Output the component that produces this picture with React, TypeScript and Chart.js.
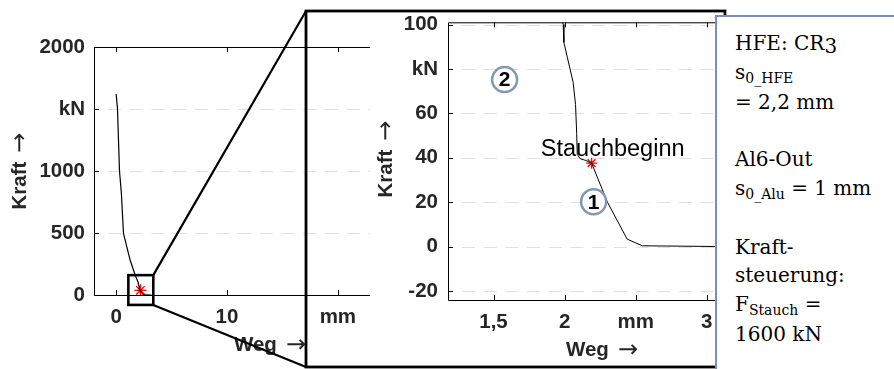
import React, { useEffect, useRef } from 'react';
import { Chart, registerables } from 'chart.js';

Chart.register(...registerables);

// Kraft-Weg-Verlauf (Weg in mm, Kraft in kN)
const WEG_MM = [0, 0.12, 0.3, 0.47, 0.66, 0.81, 1.26, 1.71, 1.99, 1.995, 2.02, 2.06, 2.077, 2.085, 2.089, 2.11, 2.15, 2.19, 2.3, 2.44, 2.547, 3.2];
const KRAFT_KN = [1620, 1500, 1000, 820, 497, 443, 282, 161, 100, 92, 85, 74, 64, 51, 41.5, 39.6, 38.8, 37.6, 20.2, 3.4, 0.4, 0];

// Stauchbeginn
const STAUCH_WEG = 2.19;
const STAUCH_KN = 37.6;

// Overview axes
const OVERVIEW_X_TICKS = [0, 10, 20];
const OVERVIEW_X_LABELS = ['0', '10', 'mm'];
const OVERVIEW_Y_TICKS = [0, 500, 1000, 1500, 2000];
const OVERVIEW_Y_LABELS = ['0', '500', '1000', 'kN', '2000'];

// Detail axes
const DETAIL_X_TICKS = [1.5, 2, 2.5, 3];
const DETAIL_X_LABELS = ['1,5', '2', 'mm', '3'];
const DETAIL_Y_TICKS = [-20, 0, 20, 40, 60, 80, 100];
const DETAIL_Y_LABELS = ['-20', '0', '20', '40', '60', 'kN', '100'];

// Phase markers in the detail view
const PHASE_LABELS = ['1', '2'];
const PHASE_WEG = [2.204, 1.578];
const PHASE_KN = [20.2, 75.2];

const W = 894;
const H = 369;
const TEXT = '#262626';
const FONT_SIZE = 20.5;
const BOLD = `bold ${FONT_SIZE}px "Liberation Sans", Arial, sans-serif`;
const ARROW = '24px "DejaVu Sans", sans-serif';
const GRID = '#e0e0e0';

const curvePoints = () => WEG_MM.map((x, i) => ({ x, y: KRAFT_KN[i] }));

function frame(chart: any, xTicks: number[], yTicks: number[]) {
  const { ctx, chartArea: a, scales } = chart;
  const xs = scales.x;
  const ys = scales.y;
  ctx.save();
  ctx.strokeStyle = '#000';
  ctx.lineWidth = 1;
  ctx.beginPath();
  ctx.moveTo(a.right, a.top + 0.5);
  ctx.lineTo(a.left + 0.5, a.top + 0.5);
  ctx.lineTo(a.left + 0.5, a.bottom + 0.5);
  ctx.lineTo(a.right, a.bottom + 0.5);
  for (const v of xTicks) {
    const px = Math.round(xs.getPixelForValue(v)) + 0.5;
    ctx.moveTo(px, a.top);
    ctx.lineTo(px, a.top + 5);
    ctx.moveTo(px, a.bottom);
    ctx.lineTo(px, a.bottom - 5);
  }
  for (const v of yTicks) {
    const py = Math.round(ys.getPixelForValue(v)) + 0.5;
    ctx.moveTo(a.left, py);
    ctx.lineTo(a.left + 5, py);
  }
  ctx.stroke();
  ctx.restore();
}

function grid(chart: any, yTicks: number[]) {
  const { ctx, chartArea: a, scales } = chart;
  const ys = scales.y;
  ctx.save();
  ctx.strokeStyle = GRID;
  ctx.lineWidth = 1;
  ctx.setLineDash([13, 8.7]);
  ctx.lineDashOffset = -14;
  for (const v of yTicks) {
    if (v <= ys.min || v >= ys.max) continue;
    const py = Math.round(ys.getPixelForValue(v)) + 0.5;
    ctx.beginPath();
    ctx.moveTo(a.left, py);
    ctx.lineTo(a.right, py);
    ctx.stroke();
  }
  ctx.restore();
}

// Axis title "<word> →", centred at (0,0) along the current direction, baseline at y=0
function titleAt(ctx: CanvasRenderingContext2D, word: string) {
  ctx.font = BOLD;
  const ww = ctx.measureText(word).width;
  ctx.font = ARROW;
  const aw = ctx.measureText('\u2192').width;
  const gap = 9;
  const start = -(ww + gap + aw) / 2;
  ctx.textAlign = 'left';
  ctx.textBaseline = 'alphabetic';
  ctx.font = BOLD;
  ctx.fillText(word, start, 0);
  ctx.font = ARROW;
  ctx.fillText('\u2192', start + ww + gap, 1);
}

function axisTitles(ctx: CanvasRenderingContext2D, yBase: number, yMid: number, xMid: number, xBase: number) {
  ctx.save();
  ctx.fillStyle = TEXT;
  ctx.save();
  ctx.translate(xMid, xBase);
  titleAt(ctx, 'Weg');
  ctx.restore();
  ctx.translate(yBase, yMid);
  ctx.rotate(-Math.PI / 2);
  titleAt(ctx, 'Kraft');
  ctx.restore();
}

function axisOptions(
  min: number, max: number, ticks: number[], labels: string[],
  fit: (s: any) => void, padding: number,
) {
  return {
    type: 'linear' as const,
    min,
    max,
    afterBuildTicks: (s: any) => { s.ticks = ticks.map((value) => ({ value })); },
    afterFit: fit,
    grid: { display: false, drawTicks: false },
    border: { display: false },
    ticks: {
      autoSkip: false,
      maxRotation: 0,
      padding,
      color: TEXT,
      font: { family: '"Liberation Sans", Arial, sans-serif', size: FONT_SIZE, weight: 'bold' as const },
      callback: (_v: any, i: number) => labels[i],
    },
  };
}

function datasets(lineWidth: number, starRadius: number) {
  return [
    {
      data: curvePoints(),
      showLine: true,
      borderColor: '#000',
      borderWidth: lineWidth,
      pointRadius: 0,
      tension: 0,
    },
    {
      data: [{ x: STAUCH_WEG, y: STAUCH_KN }],
      showLine: false,
      pointStyle: 'star' as const,
      pointRadius: starRadius,
      borderColor: '#ff0000',
      backgroundColor: '#ff0000',
      borderWidth: 1.3,
    },
  ];
}

export default function App() {
  const overviewRef = useRef<HTMLCanvasElement>(null);
  const detailRef = useRef<HTMLCanvasElement>(null);

  useEffect(() => {
    const overview = new Chart(overviewRef.current!, {
      type: 'scatter',
      data: { datasets: datasets(1.2, 6) as any },
      options: {
        animation: false,
        responsive: false,
        devicePixelRatio: 1,
        events: [],
        layout: { padding: { left: 0, top: 47, right: W - 370, bottom: 0 } },
        plugins: { legend: { display: false }, tooltip: { enabled: false } },
        scales: {
          x: axisOptions(-2, 22.9, OVERVIEW_X_TICKS, OVERVIEW_X_LABELS, (s) => { s.height = H - 295; }, 10),
          y: axisOptions(0, 2000, OVERVIEW_Y_TICKS, OVERVIEW_Y_LABELS, (s) => { s.width = 94; }, 9),
        },
      },
      plugins: [
        {
          id: 'overviewDecor',
          beforeDatasetsDraw: (c: any) => grid(c, OVERVIEW_Y_TICKS),
          afterDraw: (c: any) => {
            frame(c, OVERVIEW_X_TICKS, OVERVIEW_Y_TICKS);
            const { ctx, scales } = c;
            axisTitles(ctx, 26, 171, 270, 351);
            // magnifier box around the start of upsetting
            const bx1 = scales.x.getPixelForValue(1.1);
            const bx2 = scales.x.getPixelForValue(3.35);
            const by1 = scales.y.getPixelForValue(160);
            const by2 = scales.y.getPixelForValue(-80);
            ctx.save();
            ctx.strokeStyle = '#000';
            ctx.lineWidth = 2.6;
            ctx.strokeRect(bx1, by1, bx2 - bx1, by2 - by1);
            // detail frame and connectors
            const fx1 = 306, fy1 = 11, fx2 = 725, fy2 = 367;
            ctx.lineWidth = 2.2;
            ctx.beginPath();
            ctx.moveTo(bx2, by1);
            ctx.lineTo(fx1, fy1);
            ctx.moveTo(bx2, by2);
            ctx.lineTo(fx1, fy2);
            ctx.stroke();
            ctx.lineWidth = 2.8;
            ctx.strokeRect(fx1, fy1, fx2 - fx1, fy2 - fy1);
            ctx.restore();
          },
        },
      ],
    });

    const detail = new Chart(detailRef.current!, {
      type: 'scatter',
      data: { datasets: datasets(1, 5.5) as any },
      options: {
        animation: false,
        responsive: false,
        devicePixelRatio: 1,
        events: [],
        layout: { padding: { left: 0, top: 17, right: W - 721, bottom: 0 } },
        plugins: { legend: { display: false }, tooltip: { enabled: false } },
        scales: {
          x: axisOptions(1.18, 3.1, DETAIL_X_TICKS, DETAIL_X_LABELS, (s) => { s.height = H - 300; }, 10),
          y: axisOptions(-24, 101, DETAIL_Y_TICKS, DETAIL_Y_LABELS, (s) => { s.width = 448; }, 10),
        },
      },
      plugins: [
        {
          id: 'detailDecor',
          beforeDatasetsDraw: (c: any) => grid(c, DETAIL_Y_TICKS),
          afterDraw: (c: any) => {
            frame(c, DETAIL_X_TICKS, DETAIL_Y_TICKS);
            const { ctx, scales } = c;
            axisTitles(ctx, 392, 159, 602, 356);
            ctx.save();
            ctx.fillStyle = '#000';
            ctx.font = '23.5px "Liberation Sans", Arial, sans-serif';
            ctx.textAlign = 'center';
            ctx.textBaseline = 'alphabetic';
            ctx.fillText('Stauchbeginn', scales.x.getPixelForValue(2.338), scales.y.getPixelForValue(40.8));
            PHASE_LABELS.forEach((label, i) => {
              const px = scales.x.getPixelForValue(PHASE_WEG[i]);
              const py = scales.y.getPixelForValue(PHASE_KN[i]);
              ctx.beginPath();
              ctx.arc(px, py, 12.5, 0, Math.PI * 2);
              ctx.fillStyle = '#fff';
              ctx.fill();
              ctx.lineWidth = 2.5;
              ctx.strokeStyle = '#8497b0';
              ctx.stroke();
              ctx.fillStyle = '#000';
              ctx.font = 'bold 21px "Liberation Sans", Arial, sans-serif';
              ctx.textBaseline = 'middle';
              ctx.fillText(label, px, py + 1);
            });
            ctx.restore();
          },
        },
      ],
    });

    return () => {
      overview.destroy();
      detail.destroy();
    };
  }, []);

  const sub: React.CSSProperties = { fontSize: 14, position: 'relative', top: 4 };
  const canvasStyle: React.CSSProperties = { position: 'absolute', left: 0, top: 0, width: W, height: H };

  return (
    <div style={{ position: 'fixed', left: 0, top: 0, width: W, height: H, overflow: 'hidden', background: '#fff' }}>
      <canvas ref={overviewRef} width={W} height={H} style={canvasStyle} />
      <canvas ref={detailRef} width={W} height={H} style={canvasStyle} />
      <div
        style={{
          position: 'absolute', left: 715, top: 15, width: 240, height: 400,
          border: '2px solid #7b8fb4', background: '#fff', boxSizing: 'border-box',
          padding: '12px 0 0 18px', fontFamily: '"DejaVu Serif", serif', fontSize: 20,
          lineHeight: '28.5px', color: '#000', whiteSpace: 'nowrap',
        }}
      >
        <div>HFE: CR<span style={{ position: 'relative', top: 3 }}>3</span></div>
        <div>s<span style={sub}>0_HFE</span></div>
        <div>= 2,2 mm</div>
        <div>&nbsp;</div>
        <div>Al6-Out</div>
        <div>s<span style={sub}>0_Alu</span> = 1 mm</div>
        <div>&nbsp;</div>
        <div>Kraft-</div>
        <div>steuerung:</div>
        <div>F<span style={sub}>Stauch</span> =</div>
        <div>1600 kN</div>
      </div>
    </div>
  );
}
